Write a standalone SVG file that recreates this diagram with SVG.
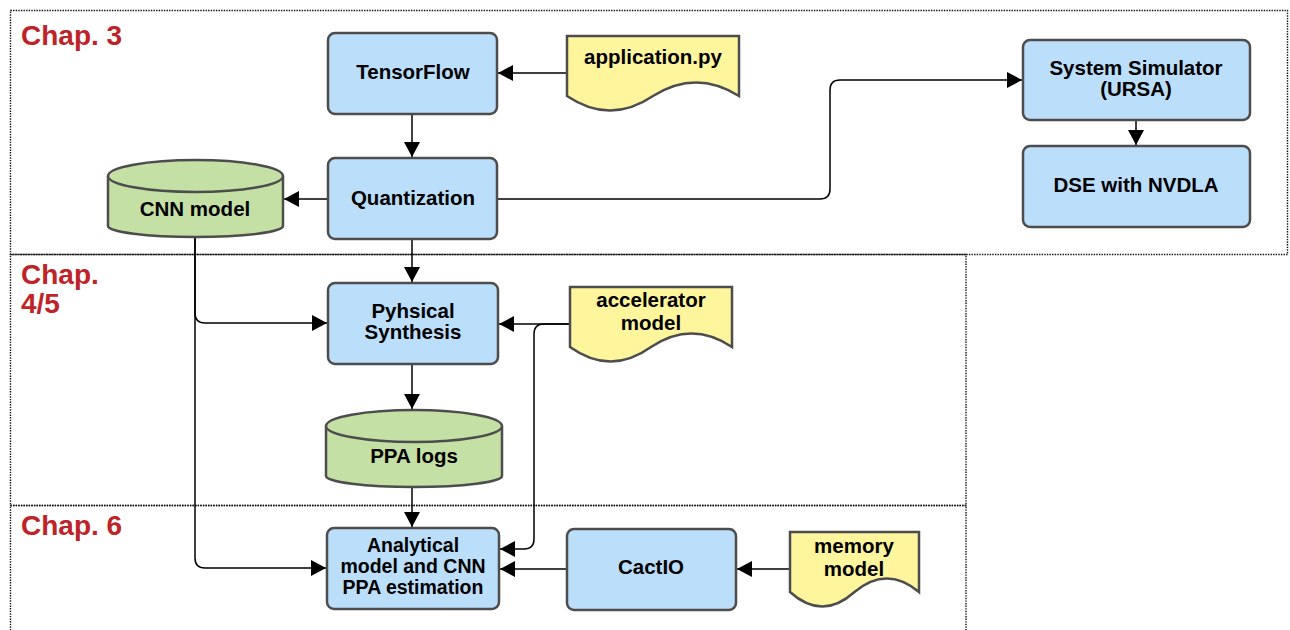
<svg xmlns="http://www.w3.org/2000/svg" width="1290" height="630" viewBox="0 0 1290 630">
  <style>
    .zone { fill: none; stroke: #111; stroke-width: 1.4; stroke-dasharray: 1.4 1.2; }
    .chap { font-family: "Liberation Sans", Arial, sans-serif; font-weight: bold; font-size: 28px; fill: #BD2327; }
    .proc { fill: #BBDEFB; stroke: #4D4D4D; stroke-width: 2.5; }
    .store { fill: #C5E0A5; stroke: #4D4D4D; stroke-width: 2.5; }
    .doc { fill: #FFF59D; stroke: #4D4D4D; stroke-width: 2.5; }
    .lbl { font-family: "Liberation Sans", Arial, sans-serif; font-weight: bold; font-size: 20.5px; fill: #000; text-anchor: middle; }
    .tight { font-size: 19.5px; }
    .wire { fill: none; stroke: #000; stroke-width: 1.5; marker-end: url(#arr); }
  </style>
  <defs>
    <marker id="arr" markerWidth="15" markerHeight="16" refX="15" refY="8" orient="auto" markerUnits="userSpaceOnUse">
      <path d="M0,0 L15,8 L0,16 Z" fill="#000"/>
    </marker>
  </defs>
  <rect width="1290" height="630" fill="#fff"/>

  <!-- chapter zones -->
  <g id="zones">
    <rect class="zone" x="10.5" y="10.5" width="1277" height="244"/>
    <rect class="zone" x="10.5" y="254.5" width="955.5" height="251"/>
    <rect class="zone" x="10.5" y="505.5" width="955.5" height="130"/>
    <text class="chap" x="21" y="45">Chap. 3</text>
    <text class="chap" x="21" y="284">Chap.</text>
    <text class="chap" x="21" y="313">4/5</text>
    <text class="chap" x="21" y="535">Chap. 6</text>
  </g>

  <!-- connectors -->
  <g id="connectors">
    <path class="wire" d="M567,73 H498"/>
    <path class="wire" d="M412,115 V157"/>
    <path class="wire" d="M328,199 H284"/>
    <path class="wire" d="M498,199 H820 Q830,199 830,189 V90 Q830,80 840,80 H1022"/>
    <path class="wire" d="M1136,121 V145"/>
    <path class="wire" d="M412,240 V282"/>
    <path class="wire" d="M195,238 V313 Q195,323 205,323 H327"/>
    <path class="wire" d="M195,238 V558 Q195,568 205,568 H326"/>
    <path class="wire" d="M570,324 H499"/>
    <path class="wire" d="M570,324 H544 Q534,324 534,334 V539 Q534,549 524,549 H500"/>
    <path class="wire" d="M412,365 V409"/>
    <path class="wire" d="M412,488 V527"/>
    <path class="wire" d="M567,569 H500"/>
    <path class="wire" d="M790,569 H737"/>
  </g>

  <!-- nodes -->
  <g id="tensorflow">
    <rect class="proc" x="328" y="33" width="169" height="81" rx="7"/>
    <text class="lbl" x="413" y="79">TensorFlow</text>
  </g>
  <g id="application-py">
    <path class="doc" d="M567,36 H739 V96 Q696,69 653,96 Q610,125 567,96 Z"/>
    <text class="lbl" x="653" y="64">application.py</text>
  </g>
  <g id="quantization">
    <rect class="proc" x="328" y="158" width="169" height="81" rx="7"/>
    <text class="lbl" x="413" y="205">Quantization</text>
  </g>
  <g id="cnn-model">
    <path class="store" d="M108,176 A87.5,16 0 0 1 283,176 V226 A87.5,11 0 0 1 108,226 Z"/>
    <path class="store" d="M108,176 A87.5,16 0 0 0 283,176" fill="none"/>
    <text class="lbl" x="195" y="216">CNN model</text>
  </g>
  <g id="system-simulator">
    <rect class="proc" x="1023" y="40" width="227" height="80" rx="7"/>
    <text class="lbl" x="1136" y="75">System Simulator</text>
    <text class="lbl" x="1136" y="96">(URSA)</text>
  </g>
  <g id="dse-nvdla">
    <rect class="proc" x="1023" y="146" width="227" height="81" rx="7"/>
    <text class="lbl" x="1136" y="192">DSE with NVDLA</text>
  </g>
  <g id="physical-synthesis">
    <rect class="proc" x="328" y="283" width="170" height="81" rx="7"/>
    <text class="lbl" x="413" y="318">Pyhsical</text>
    <text class="lbl" x="413" y="339">Synthesis</text>
  </g>
  <g id="accelerator-model">
    <path class="doc" d="M570,287 H732 V347 Q691.5,320 651,347 Q610.5,376 570,347 Z"/>
    <text class="lbl" x="651" y="307">accelerator</text>
    <text class="lbl" x="651" y="330">model</text>
  </g>
  <g id="ppa-logs">
    <path class="store" d="M326,426 A88,16 0 0 1 502,426 V476 A88,11 0 0 1 326,476 Z"/>
    <path class="store" d="M326,426 A88,16 0 0 0 502,426" fill="none"/>
    <text class="lbl" x="414" y="463">PPA logs</text>
  </g>
  <g id="analytical-model">
    <rect class="proc" x="327" y="528" width="172" height="81" rx="7"/>
    <text class="lbl tight" x="413" y="552">Analytical</text>
    <text class="lbl tight" x="413" y="573">model and CNN</text>
    <text class="lbl tight" x="413" y="594">PPA estimation</text>
  </g>
  <g id="cactio">
    <rect class="proc" x="567" y="529" width="169" height="81" rx="7"/>
    <text class="lbl" x="651" y="574">CactIO</text>
  </g>
  <g id="memory-model">
    <path class="doc" d="M790,532 H919 V592 Q886.75,565 854.5,592 Q822.25,621 790,592 Z"/>
    <text class="lbl" x="854" y="553">memory</text>
    <text class="lbl" x="854" y="576">model</text>
  </g>
</svg>
